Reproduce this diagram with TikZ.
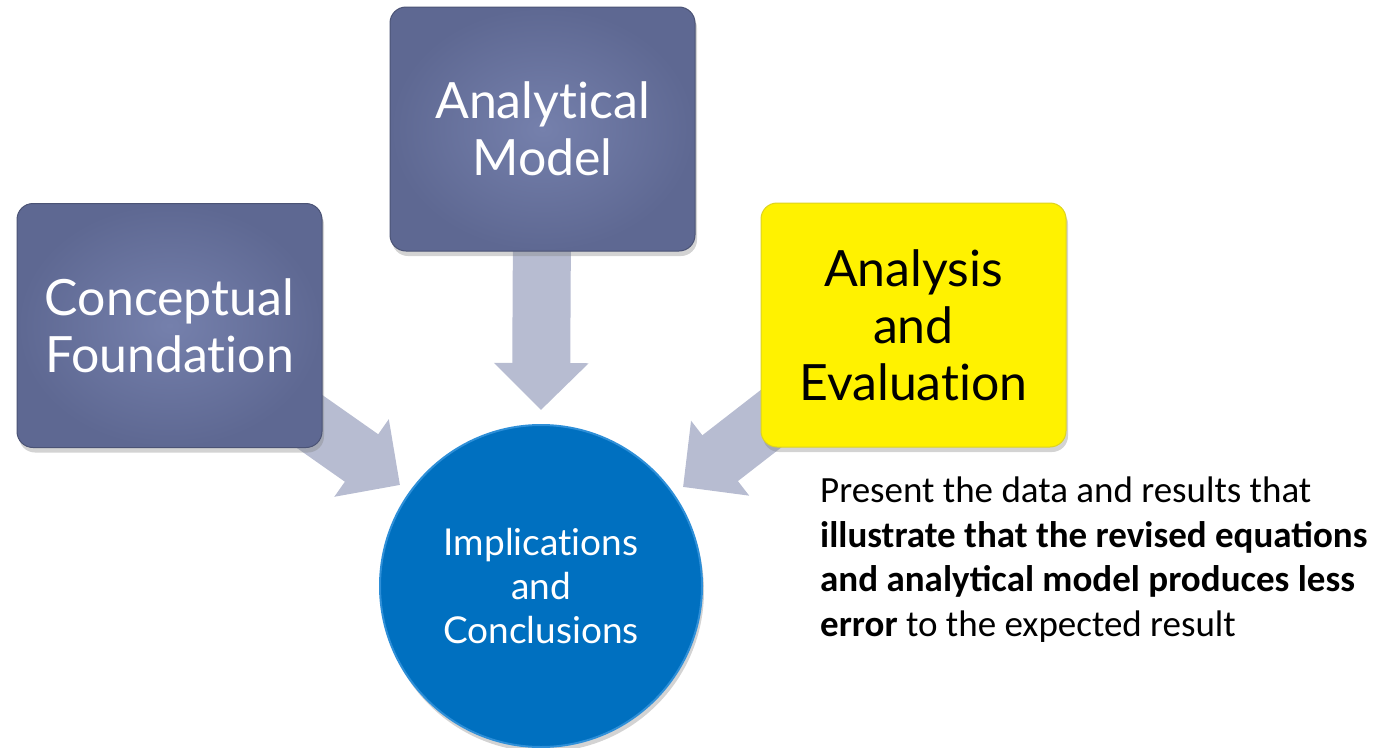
\documentclass[tikz,border=0pt]{standalone}
\usepackage{fontspec}
\setmainfont{Lato}[Ligatures=NoCommon]
\newfontfamily\calibri{Carlito}
\usetikzlibrary{arrows.meta,shadows,backgrounds}
\definecolor{slatein}{HTML}{7580AC}
\definecolor{slateout}{HTML}{5E6892}
\definecolor{arrowc}{HTML}{B7BCD1}
\definecolor{ballblue}{HTML}{0070C0}
\definecolor{ballrim}{HTML}{2E8FD8}
\tikzset{
  boxbase/.style={rectangle, rounded corners=16pt, minimum width=305pt, minimum height=244pt,
    align=center, inner sep=0pt, font=\fontsize{50}{57}\selectfont,
    drop shadow={opacity=0.35, shadow xshift=2pt, shadow yshift=-5pt}},
  bluebox/.style={boxbase, inner color=slatein, outer color=slateout, text=white, draw=slateout!80!black, line width=1pt},
  yellowbox/.style={boxbase, fill=yellow, text=black, draw=yellow!85!black, line width=1pt},
  ball/.style={circle, minimum size=322pt, inner sep=0pt, fill=ballblue, draw=ballrim, line width=2pt,
    text=white, align=center, font=\fontsize{37}{44}\selectfont,
    drop shadow={opacity=0.35, shadow xshift=2pt, shadow yshift=-5pt}},
  barrow/.style={draw=arrowc, line width=58pt, -{Triangle[width=92pt,length=47pt]}},
  note/.style={anchor=north west, inner sep=0pt, align=left, font=\calibri\fontsize{37}{44.5}\selectfont}
}
\begin{document}
\begin{tikzpicture}[x=1pt,y=-1pt]
\useasboundingbox (0,0) rectangle (1384,747);
\node[bluebox] (cf) at (169.5,325.5) {Conceptual\\Foundation};
\node[bluebox] (am) at (542.5,129) {Analytical\\Model};
\node[yellowbox] (ae) at (913.5,325) {Analysis\\and\\Evaluation};
\node[ball] (ic) at (541,586) {Implications\\and\\Conclusions};
\coordinate (tipD) at (541,410);
\coordinate (tipL) at (400,485);
\coordinate (tipR) at (683,487);
\coordinate (srcL) at (279,400);
\coordinate (srcR) at (799,397);
\begin{scope}[on background layer]
  \draw[barrow] (am.center) -- (tipD);
  \draw[barrow] (srcL) -- (tipL);
  \draw[barrow] (srcR) -- (tipR);
\end{scope}
\node[note] (txt) at (820,477) {Present the data and results that\\
\textbf{illustrate that the revised equations}\\
\textbf{and analytical model produces less}\\
\textbf{error} to the expected result};
\end{tikzpicture}
\end{document}
